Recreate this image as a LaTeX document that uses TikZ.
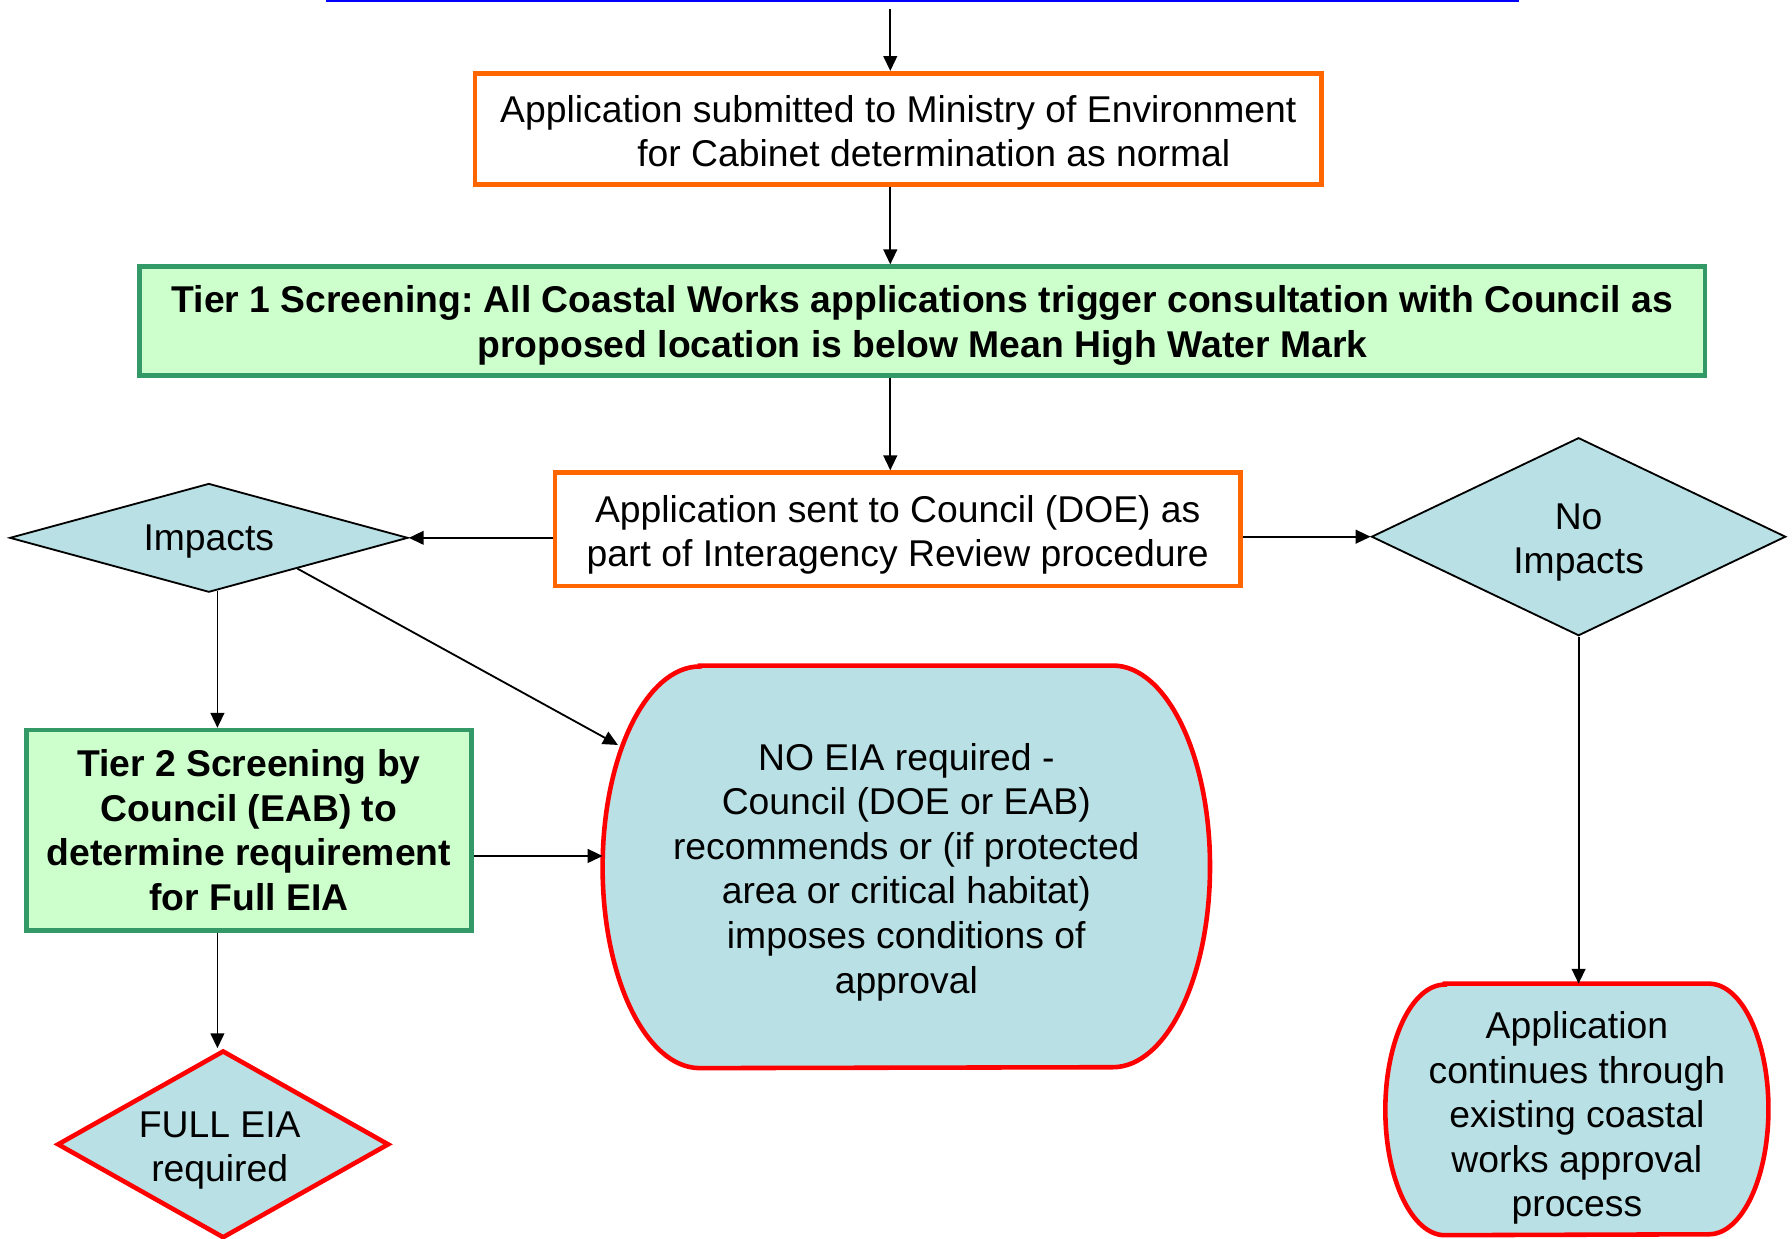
\documentclass[tikz,border=0pt]{standalone}
\usepackage{fontspec}
\setmainfont{Liberation Sans}
\usetikzlibrary{arrows.meta,shapes.geometric,calc}
\definecolor{orng}{RGB}{255,102,0}
\definecolor{grnfill}{RGB}{204,255,204}
\definecolor{grnline}{RGB}{51,153,102}
\definecolor{ltblue}{RGB}{185,224,228}
\definecolor{linkblue}{RGB}{0,0,255}
\frenchspacing
\begin{document}
\begin{tikzpicture}[x=0.5pt,y=-0.5pt,
  txt/.style={font=\fontsize{16.3pt}{19.5pt}\selectfont, align=center, inner sep=0pt},
  btxt/.style={txt, font=\fontsize{16.3pt}{19.5pt}\selectfont\bfseries},
  orbox/.style={draw=orng, line width=2pt, fill=white, inner sep=0pt},
  grbox/.style={draw=grnline, fill=grnfill, line width=2pt, inner sep=0pt},
  dia/.style={shape=diamond, inner sep=0pt, fill=ltblue, draw=black, line width=0.8pt},
  reddia/.style={dia, draw=red, line width=2pt},
  holder/.style={rectangle, draw=none, inner sep=0pt},
  redshape/.style={draw=red, fill=ltblue, line width=2pt},
  arr/.style={-{Triangle[length=6.5pt,width=6pt]}, line width=0.8pt, draw=black}]
\useasboundingbox (0,0) rectangle (1566,1082.7);

% top blue line
\draw[linkblue, line width=1pt] (285,0.5) -- (1327,0.5);

% boxes
\node[orbox, minimum width=370pt, minimum height=48.5pt] (b1) at (785,112.5) {};
\node[txt] (b1text) at ([yshift=-1pt]b1.center)
  {Application submitted to Ministry of Environment\\\hspace*{31pt}for Cabinet determination as normal};
\node[grbox, minimum width=684pt, minimum height=47.5pt] (t1) at (806,280.5) {};
\node[btxt] (t1text) at ([yshift=-2pt]t1.center)
  {Tier 1 Screening: All Coastal Works applications trigger consultation with Council as\\proposed location is below Mean High Water Mark};
\node[orbox, minimum width=299.5pt, minimum height=49.5pt] (b3) at (784.5,462.5) {};
\node[txt] (b3text) at ([yshift=-2.5pt]b3.center)
  {Application sent to Council (DOE) as\\part of Interagency Review procedure};
\node[grbox, minimum width=194.5pt, minimum height=87.5pt] (t2) at (217.5,725.5) {};
\node[btxt] (t2text) at (t2.center)
  {Tier 2 Screening by\\Council (EAB) to\\determine requirement\\for Full EIA};

% diamonds
\node[dia, aspect=3.6, minimum width=174pt, minimum height=47.5pt] (imp) at (182.5,470) {};
\node[txt] (imptext) at ([yshift=-1.5pt]imp.center) {Impacts};
\node[dia, aspect=2.1, minimum width=181pt, minimum height=86.5pt] (noimp) at (1379.5,469) {};
\node[txt] (noimptext) at ([yshift=-2.5pt]noimp.center) {No\\Impacts};
\node[reddia, aspect=1.77, minimum width=145pt, minimum height=82pt] (full) at (195,1000) {};
\node[txt] (fulltext) at ([xshift=-1.5pt,yshift=-2.75pt]full.center) {FULL EIA\\required};

% NO EIA rounded shape
\node[holder, minimum width=265pt, minimum height=175.5pt] (noeia) at (792,757.5) {};
\path[redshape] ([xshift=42.5pt]noeia.north west) -- ([xshift=-42.5pt]noeia.north east)
  arc[start angle=90, end angle=-90, x radius=42.5pt, y radius=87.75pt]
  -- ([xshift=42.5pt]noeia.south west)
  arc[start angle=270, end angle=90, x radius=42.5pt, y radius=87.75pt] -- cycle;
\node[txt] (noeiatext) at ([yshift=-2.25pt]noeia.center)
  {NO EIA required -\\Council (DOE or EAB)\\recommends or (if protected\\area or critical habitat)\\imposes conditions of\\approval};

% Application continues shape
\node[holder, minimum width=167pt, minimum height=109.5pt] (app) at (1378,969.5) {};
\path[redshape] ([xshift=26pt]app.north west) -- ([xshift=-26pt]app.north east)
  arc[start angle=90, end angle=-90, x radius=26pt, y radius=54.75pt]
  -- ([xshift=26pt]app.south west)
  arc[start angle=270, end angle=90, x radius=26pt, y radius=54.75pt] -- cycle;
\node[txt] (apptext) at ([yshift=-3.75pt]app.center)
  {Application\\continues through\\existing coastal\\works approval\\process};

% connectors
\coordinate (start) at (778,8);
\draw[arr] (start) -- (start |- b1.north);
\draw[arr] (start |- b1.south) -- (start |- t1.north);
\draw[arr] (start |- t1.south) -- (start |- b3.north);
\draw[arr] (b3.west |- imp.east) -- (imp.east);
\draw[arr] (b3.east |- noimp.west) -- (noimp.west);
\coordinate (ia) at ($(imp.south)+(7.5,-2)$);
\draw[arr] (ia) -- (ia |- t2.north);
\coordinate (tb) at (ia |- t2.south);
\draw[arr] (tb) -- (tb |- full.north);
\coordinate (dstart) at ($(imp.east)!0.557!(imp.south)$);
\coordinate (dend) at ($(noeia.center)+(-252,-106.5)$);
\draw[arr] (dstart) -- (dend);
\coordinate (nw2) at ($(noeia.west)+(0,-9.5)$);
\draw[arr] (t2.east |- nw2) -- (nw2);
\draw[arr] (noimp.south) -- (noimp.south |- app.north);
\end{tikzpicture}
\end{document}
